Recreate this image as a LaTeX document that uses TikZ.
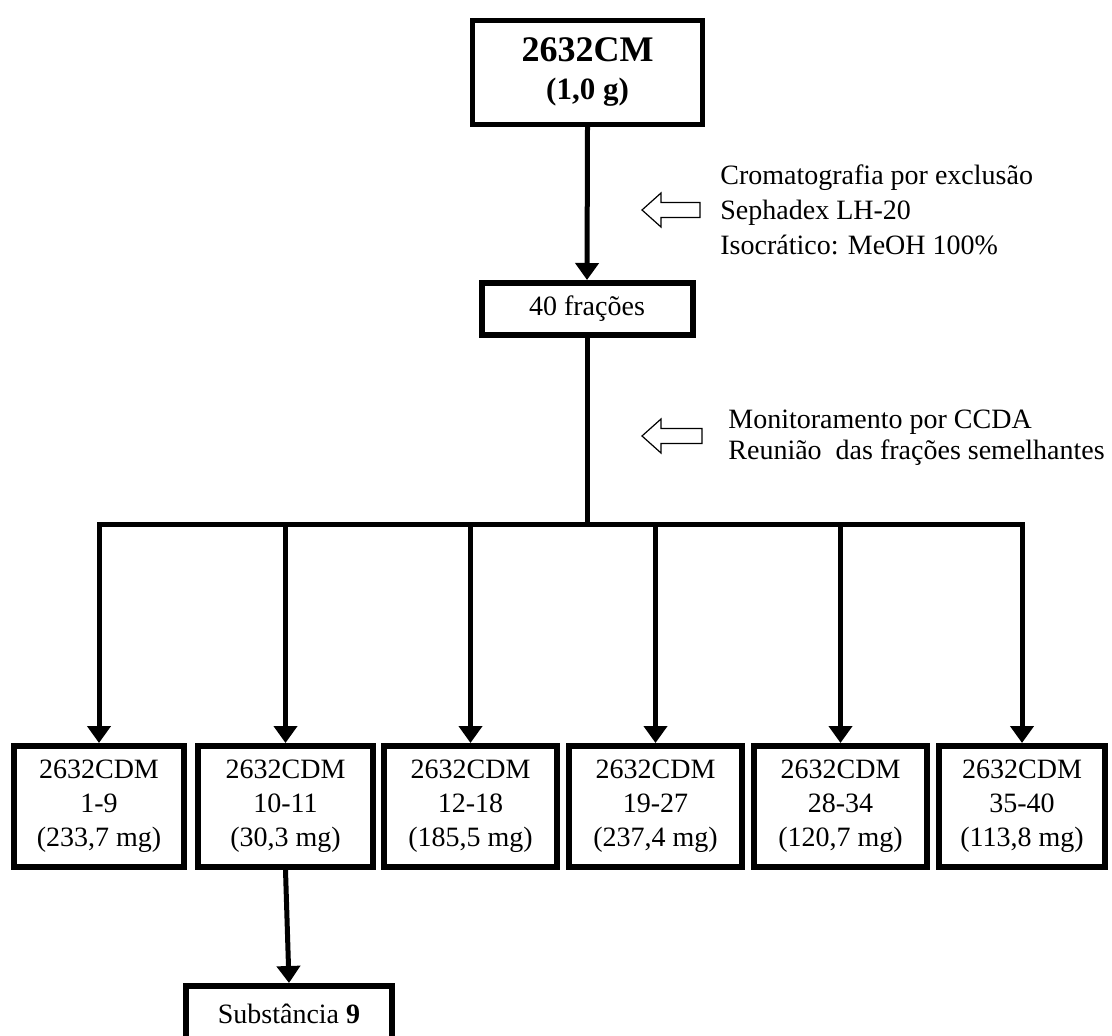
\documentclass[tikz,border=0pt]{standalone}
\usepackage{fontspec}
\setmainfont{Liberation Serif}
\usetikzlibrary{arrows.meta}
\begin{document}
\begin{tikzpicture}[x=0.5pt,y=-0.5pt,
  box/.style={draw, line width=3pt, inner sep=0pt, align=center, font=\fontsize{14pt}{17pt}\selectfont},
  conn/.style={line width=2.5pt, -{Triangle[width=11.5pt,length=8.5pt]}},
  trunk/.style={line width=2.5pt},
  hollow/.style={draw, line width=0.6pt, fill=white, line join=miter},
  note/.style={anchor=west, align=left, inner sep=0pt}]
\useasboundingbox (0,0) rectangle (1112,1036);
% boxes
\node[box, line width=2.5pt, minimum width=115pt, minimum height=52pt,
      font=\fontsize{18pt}{19pt}\selectfont\bfseries] (top) at (587.5,72.5)
      {2632CM\\{\fontsize{15.5pt}{19pt}\selectfont (1,0 g)}};
\node[box, minimum width=105.5pt, minimum height=26pt] (fr40) at (587,309) {40 frações};
\node[box, minimum width=85pt,   minimum height=60.5pt] (b1) at (99,806.5)   {2632CDM\\1-9\\(233,7 mg)};
\node[box, minimum width=87.5pt, minimum height=60.5pt] (b2) at (285.5,806.5) {2632CDM\\10-11\\(30,3 mg)};
\node[box, minimum width=86.5pt, minimum height=60.5pt] (b3) at (470.5,806.5) {2632CDM\\12-18\\(185,5 mg)};
\node[box, minimum width=86.5pt, minimum height=60.5pt] (b4) at (655.5,806.5) {2632CDM\\19-27\\(237,4 mg)};
\node[box, minimum width=86.5pt, minimum height=60.5pt] (b5) at (840.5,806.5) {2632CDM\\28-34\\(120,7 mg)};
\node[box, minimum width=83pt,   minimum height=60.5pt] (b6) at (1022,806.5)  {2632CDM\\35-40\\(113,8 mg)};
\node[box, minimum width=103pt, minimum height=28pt] (sub) at (289,1014) {Substância \textbf{9}};
% notes
\node[note, font=\fontsize{14pt}{17.5pt}\selectfont] (t1) at (720,210)
  {Cromatografia por exclusão\\Sephadex LH-20\\Isocrático: MeOH 100\%};
\node[note, font=\fontsize{14pt}{15.5pt}\selectfont] (t2) at (728,438)
  {Monitoramento por CCDA\\Reunião\ \ das frações semelhantes};
% hollow arrows
\draw[hollow] (642,210) -- (661,193) -- (661,202.5) -- (700,202.5) -- (700,217.5) -- (661,217.5) -- (661,227) -- cycle;
\draw[hollow] (642,436) -- (661,419) -- (661,428.5) -- (702,428.5) -- (702,443.5) -- (661,443.5) -- (661,453) -- cycle;
% connectors
\coordinate (j) at (587,525);
\draw[conn] (top.south) -- (fr40.north);
\draw[trunk] (fr40.south) -- (j);
\draw[trunk, line cap=rect] (b1.north |- j) -- (b6.north |- j);
\foreach \i in {1,...,6} \draw[conn] (b\i.north |- j) -- (b\i.north);
\draw[conn] (b2.south) -- (sub.north);
\end{tikzpicture}
\end{document}
